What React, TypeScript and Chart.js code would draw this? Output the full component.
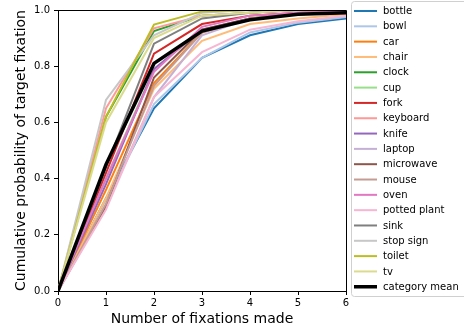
import React, { useEffect, useRef } from "react";
import { Chart, registerables } from "chart.js";

Chart.register(...registerables);

const fixations = [0, 1, 2, 3, 4, 5, 6];
const categories = [
  "bottle", "bowl", "car", "chair", "clock", "cup", "fork", "keyboard", "knife",
  "laptop", "microwave", "mouse", "oven", "potted plant", "sink", "stop sign", "toilet", "tv",
];
const colors = [
  "#1f77b4", "#aec7e8", "#ff7f0e", "#ffbb78", "#2ca02c", "#98df8a", "#d62728", "#ff9896", "#9467bd",
  "#c5b0d5", "#8c564b", "#c49c94", "#e377c2", "#f7b6d2", "#7f7f7f", "#c7c7c7", "#bcbd22", "#dbdb8d",
];

const bottle = [0, 0.33, 0.65, 0.83, 0.91, 0.95, 0.97];
const bowl = [0, 0.31, 0.665, 0.83, 0.92, 0.955, 0.975];
const car = [0, 0.36, 0.74, 0.92, 0.97, 0.985, 0.99];
const chair = [0, 0.33, 0.72, 0.89, 0.95, 0.97, 0.985];
const clock = [0, 0.62, 0.925, 0.98, 0.99, 1.0, 1.0];
const cup = [0, 0.4, 0.79, 0.93, 0.97, 0.99, 0.995];
const fork = [0, 0.42, 0.845, 0.95, 0.98, 0.99, 0.995];
const keyboard = [0, 0.65, 0.935, 0.98, 0.99, 1.0, 1.0];
const knife = [0, 0.38, 0.79, 0.93, 0.97, 0.985, 0.99];
const laptop = [0, 0.3, 0.69, 0.91, 0.97, 0.985, 0.99];
const microwave = [0, 0.3, 0.76, 0.93, 0.97, 0.985, 0.99];
const mouse = [0, 0.31, 0.73, 0.92, 0.97, 0.985, 0.99];
const oven = [0, 0.4, 0.78, 0.94, 0.98, 0.99, 0.995];
const pottedPlant = [0, 0.29, 0.69, 0.85, 0.93, 0.96, 0.98];
const sink = [0, 0.44, 0.88, 0.97, 0.99, 1.0, 1.0];
const stopSign = [0, 0.68, 0.91, 0.99, 1.0, 1.0, 1.0];
const toilet = [0, 0.62, 0.948, 0.995, 1.0, 1.0, 1.0];
const tv = [0, 0.6, 0.9, 0.98, 0.99, 1.0, 1.0];
const categoryMean = [0, 0.45, 0.81, 0.925, 0.965, 0.985, 0.99];

const seriesValues = [
  bottle, bowl, car, chair, clock, cup, fork, keyboard, knife,
  laptop, microwave, mouse, oven, pottedPlant, sink, stopSign, toilet, tv,
];

const yTicks = [0, 0.2, 0.4, 0.6, 0.8, 1.0];

const FONT = "'DejaVu Sans', sans-serif";

const legendPlugin = {
  id: "mplLegend",
  afterDraw(chart: any) {
    const ctx = chart.ctx;
    const { top, right, bottom, left } = chart.chartArea;
    ctx.save();
    ctx.strokeStyle = "#000";
    ctx.lineWidth = 1;
    ctx.beginPath();
    ctx.moveTo(Math.round(left) - 0.5, Math.round(top) + 0.5);
    ctx.lineTo(Math.round(right) + 0.5, Math.round(top) + 0.5);
    ctx.lineTo(Math.round(right) + 0.5, Math.round(bottom) + 0.5);
    ctx.stroke();

    const bx = 351.5, by = 1.5, bw = 130, bh = 295, r = 3;
    ctx.beginPath();
    ctx.moveTo(bx + r, by);
    ctx.lineTo(bx + bw - r, by);
    ctx.arcTo(bx + bw, by, bx + bw, by + r, r);
    ctx.lineTo(bx + bw, by + bh - r);
    ctx.arcTo(bx + bw, by + bh, bx + bw - r, by + bh, r);
    ctx.lineTo(bx + r, by + bh);
    ctx.arcTo(bx, by + bh, bx, by + bh - r, r);
    ctx.lineTo(bx, by + r);
    ctx.arcTo(bx, by, bx + r, by, r);
    ctx.closePath();
    ctx.fillStyle = "rgba(255,255,255,0.85)";
    ctx.fill();
    ctx.strokeStyle = "#d0d0d0";
    ctx.stroke();

    const labels = [...categories, "category mean"];
    const cols = [...colors, "#000000"];
    ctx.font = `10px ${FONT}`;
    ctx.textBaseline = "middle";
    ctx.textAlign = "left";
    labels.forEach((lab, i) => {
      const y = 11 + i * 15.32;
      ctx.strokeStyle = cols[i];
      ctx.lineWidth = i === labels.length - 1 ? 3.5 : 2;
      ctx.beginPath();
      ctx.moveTo(354, y);
      ctx.lineTo(377, y);
      ctx.stroke();
      ctx.fillStyle = "#000";
      ctx.fillText(lab, 383, y + 0.5);
    });
    ctx.restore();
  },
};

export default function App() {
  const ref = useRef<HTMLCanvasElement | null>(null);
  useEffect(() => {
    if (!ref.current) return;
    const datasets: any[] = seriesValues.map((vals, i) => ({
      label: categories[i],
      data: vals.map((v, j) => ({ x: fixations[j], y: v })),
      borderColor: colors[i],
      backgroundColor: colors[i],
      borderWidth: 2,
      pointRadius: 0,
      tension: 0,
      fill: false,
      clip: 0,
      order: -i,
    }));
    datasets.push({
      label: "category mean",
      data: categoryMean.map((v, j) => ({ x: fixations[j], y: v })),
      borderColor: "#000",
      backgroundColor: "#000",
      borderWidth: 3.5,
      pointRadius: 0,
      tension: 0,
      fill: false,
      clip: 0,
      order: -100,
    });
    const chart = new Chart(ref.current, {
      type: "line",
      data: { datasets },
      plugins: [legendPlugin],
      options: {
        animation: false,
        responsive: false,
        maintainAspectRatio: false,
        layout: { padding: { top: 8, right: 118, left: 0, bottom: 0 } },
        plugins: { legend: { display: false }, tooltip: { enabled: false } },
        scales: {
          x: {
            type: "linear",
            min: 0,
            max: 6,
            afterFit: (s: any) => { s.height = 39; },
            ticks: { stepSize: 1, color: "#000", font: { family: FONT, size: 10 }, padding: 2, maxRotation: 0 },
            grid: { display: true, drawOnChartArea: false, drawTicks: true, tickLength: 4, color: "#000" },
            border: { display: true, color: "#000", width: 1 },
            title: {
              display: true,
              text: "Number of fixations made",
              color: "#000",
              font: { family: FONT, size: 14 },
              padding: { top: 0, bottom: 2 },
            },
          },
          y: {
            type: "linear",
            min: 0,
            max: 1,
            afterFit: (s: any) => { s.width = 58; },
            afterBuildTicks: (s: any) => { s.ticks = yTicks.map((v) => ({ value: v })); },
            ticks: {
              color: "#000",
              font: { family: FONT, size: 10 },
              padding: 4,
              callback: (v: any) => Number(v).toFixed(1),
            },
            grid: { display: true, drawOnChartArea: false, drawTicks: true, tickLength: 4, color: "#000" },
            border: { display: true, color: "#000", width: 1 },
            title: {
              display: true,
              text: "Cumulative probability of target fixation",
              color: "#000",
              font: { family: FONT, size: 14 },
              padding: { top: 13, bottom: 0 },
            },
          },
        },
      } as any,
    });
    return () => chart.destroy();
  }, []);
  return (
    <div style={{ position: "fixed", left: 0, top: 0, width: 464, height: 330, background: "#fff" }}>
      <canvas ref={ref} width={464} height={330} style={{ width: 464, height: 330 }} />
    </div>
  );
}
